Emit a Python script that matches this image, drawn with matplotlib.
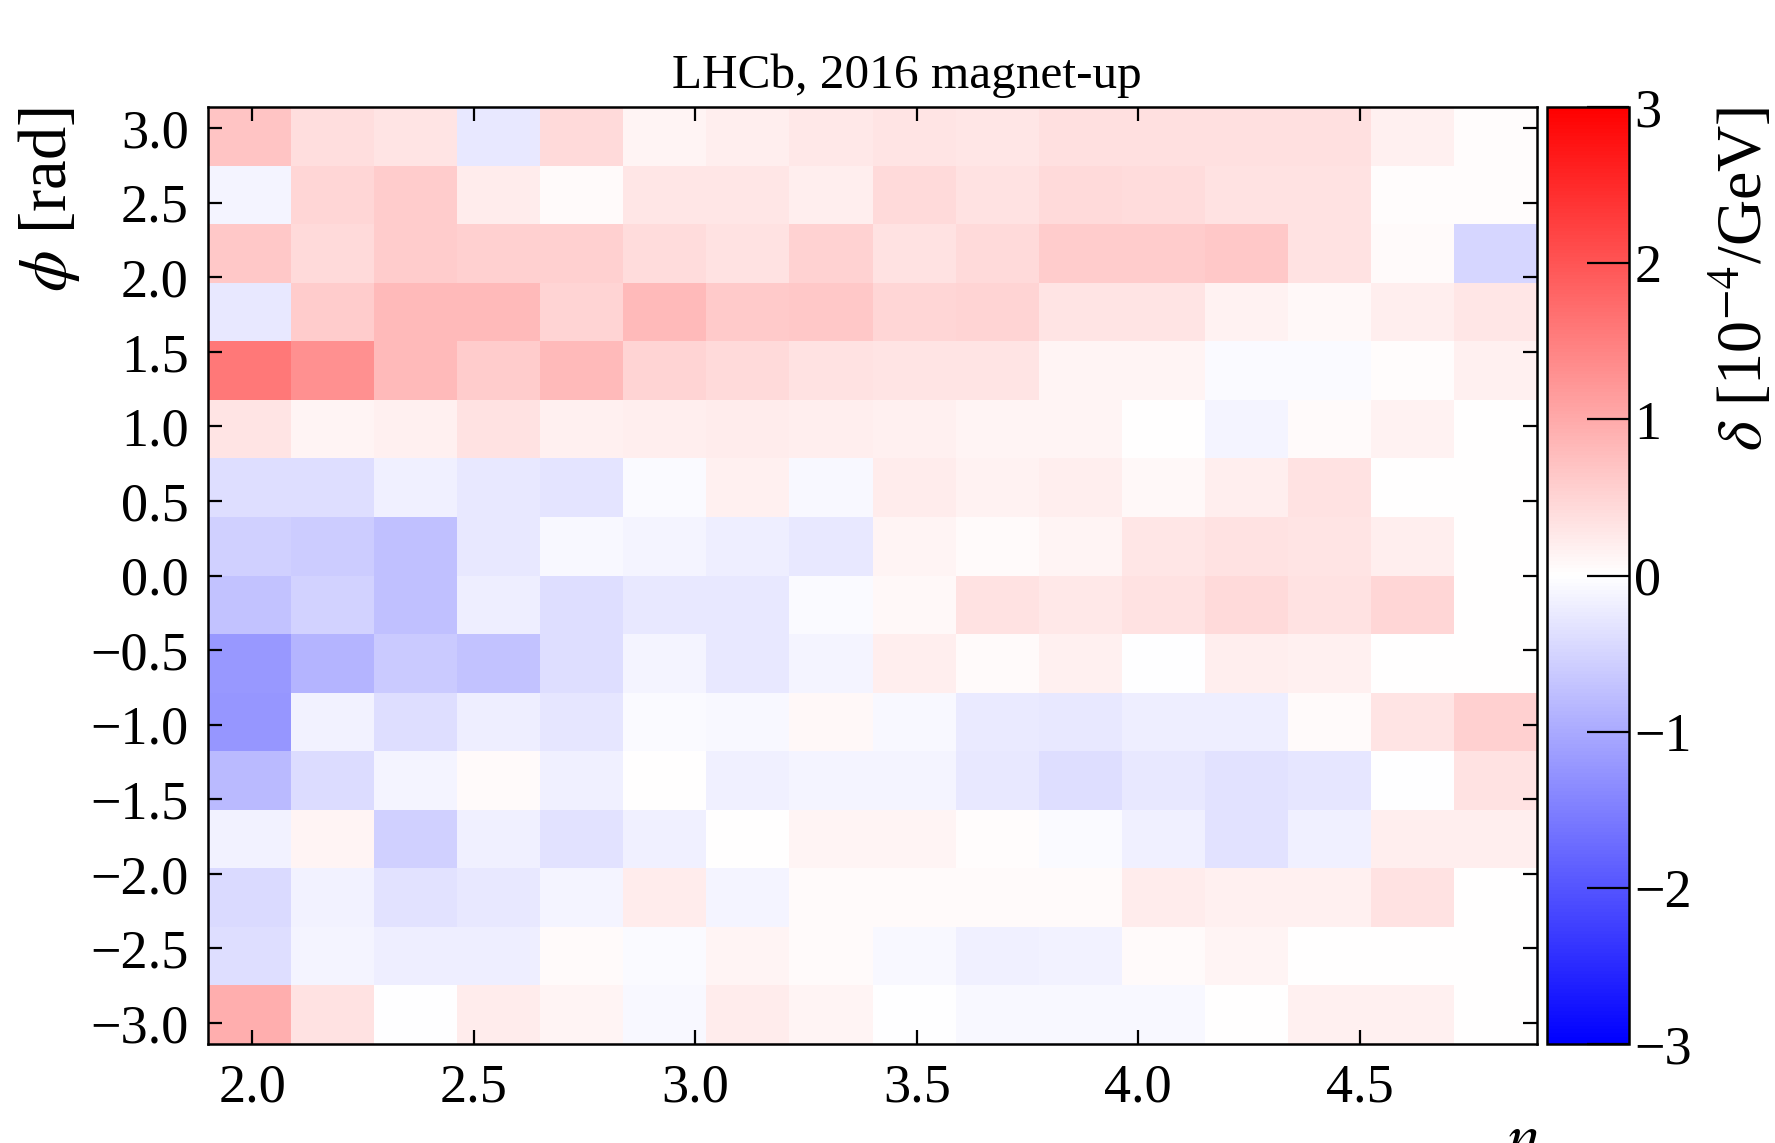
import numpy as np
import matplotlib
matplotlib.use('Agg')
import matplotlib.pyplot as plt

plt.rcParams['font.family'] = ['Liberation Serif', 'DejaVu Serif']
plt.rcParams['mathtext.fontset'] = 'stix'

# binning
eta_low, eta_high, n_eta = 1.9, 4.9, 16
phi_low, phi_high, n_phi = -np.pi, np.pi, 16

# delta values [1e-4/GeV]; rows from top (phi ~ +3) to bottom (phi ~ -3),
# columns from eta = 1.9 to eta = 4.9
delta = [
    [0.70, 0.39, 0.32, -0.27, 0.44, 0.12, 0.21, 0.27, 0.32, 0.29, 0.36, 0.36, 0.36, 0.36, 0.18, 0.03],
    [-0.12, 0.47, 0.59, 0.22, 0.06, 0.29, 0.30, 0.20, 0.44, 0.35, 0.44, 0.42, 0.34, 0.34, 0.03, 0.03],
    [0.65, 0.44, 0.59, 0.55, 0.55, 0.41, 0.35, 0.53, 0.35, 0.44, 0.59, 0.59, 0.65, 0.35, 0.07, -0.47],
    [-0.27, 0.59, 0.82, 0.82, 0.51, 0.82, 0.62, 0.65, 0.47, 0.50, 0.32, 0.32, 0.15, 0.09, 0.20, 0.29],
    [1.59, 1.29, 0.82, 0.59, 0.82, 0.50, 0.44, 0.35, 0.32, 0.32, 0.12, 0.12, -0.06, -0.06, 0.03, 0.18],
    [0.32, 0.14, 0.18, 0.35, 0.18, 0.20, 0.23, 0.20, 0.18, 0.12, 0.14, 0.02, -0.14, 0.06, 0.15, 0.02],
    [-0.39, -0.39, -0.18, -0.27, -0.32, -0.06, 0.18, -0.08, 0.23, 0.15, 0.20, 0.09, 0.20, 0.35, 0.02, 0.02],
    [-0.55, -0.59, -0.74, -0.27, -0.08, -0.12, -0.20, -0.27, 0.12, 0.06, 0.12, 0.29, 0.35, 0.32, 0.20, 0.02],
    [-0.71, -0.53, -0.73, -0.20, -0.38, -0.27, -0.27, -0.06, 0.09, 0.35, 0.26, 0.35, 0.44, 0.35, 0.47, 0.02],
    [-1.21, -0.88, -0.62, -0.71, -0.38, -0.12, -0.27, -0.12, 0.20, 0.06, 0.18, -0.02, 0.20, 0.18, 0.02, 0.02],
    [-1.24, -0.15, -0.39, -0.21, -0.29, -0.06, -0.08, 0.08, -0.08, -0.24, -0.27, -0.20, -0.20, 0.06, 0.32, 0.55],
    [-0.82, -0.41, -0.12, 0.06, -0.18, 0.00, -0.18, -0.12, -0.12, -0.27, -0.39, -0.27, -0.35, -0.29, -0.02, 0.35],
    [-0.15, 0.12, -0.55, -0.18, -0.35, -0.18, 0.00, 0.12, 0.12, 0.04, -0.06, -0.18, -0.34, -0.18, 0.20, 0.20],
    [-0.44, -0.15, -0.35, -0.27, -0.14, 0.22, -0.12, 0.06, 0.06, 0.06, 0.06, 0.23, 0.18, 0.18, 0.35, 0.02],
    [-0.39, -0.12, -0.21, -0.21, 0.06, -0.06, 0.14, 0.06, -0.08, -0.18, -0.15, 0.05, 0.14, 0.02, 0.02, 0.02],
    [0.96, 0.35, -0.02, 0.23, 0.14, -0.08, 0.22, 0.14, -0.02, -0.09, -0.09, -0.09, 0.02, 0.18, 0.18, 0.02],
]

x_ticks = [2.0, 2.5, 3.0, 3.5, 4.0, 4.5]
y_ticks = [-3.0, -2.5, -2.0, -1.5, -1.0, -0.5, 0.0, 0.5, 1.0, 1.5, 2.0, 2.5, 3.0]
cbar_ticks = [-3, -2, -1, 0, 1, 2, 3]
z_min, z_max = -3, 3

title = 'LHCb, 2016 magnet-up'
x_label = r'$\eta$'
y_label = r'$\phi$ [rad]'
z_label = r'$\delta$ [10$^{-4}$/GeV]'

eta_edges = np.linspace(eta_low, eta_high, n_eta + 1)
phi_edges = np.linspace(phi_low, phi_high, n_phi + 1)
Z = np.array(delta)[::-1]

fig = plt.figure(figsize=(17.75, 11.43), dpi=100)
ax = fig.add_axes([0.1172, 0.0866, 0.7487, 0.8198])
cax = fig.add_axes([0.8715, 0.0866, 0.0462, 0.8198])

mesh = ax.pcolormesh(eta_edges, phi_edges, Z, cmap='bwr', vmin=z_min, vmax=z_max)
ax.set_xlim(eta_low, eta_high)
ax.set_ylim(phi_low, phi_high)

ax.set_xticks(x_ticks)
ax.set_xticklabels([f'{v:.1f}' for v in x_ticks])
ax.set_yticks(y_ticks)
ax.set_yticklabels([f'{v:.1f}'.replace('-', '\u2212') for v in y_ticks])
ax.tick_params(direction='in', top=True, right=True, length=10, width=1.6,
               labelsize=39, pad=14)
for s in ax.spines.values():
    s.set_linewidth(1.8)

ax.set_title(title, fontsize=35.5, pad=14, x=0.526)
ax.set_xlabel(x_label, loc='right', fontsize=46, labelpad=0)
ax.set_ylabel(y_label, loc='top', fontsize=48, labelpad=6)

cb = fig.colorbar(mesh, cax=cax, ticks=cbar_ticks)
cb.ax.set_yticklabels([str(t).replace('-', '\u2212') for t in cbar_ticks])
cb.ax.tick_params(direction='in', length=30, width=1.6, labelsize=39, pad=4)
cb.outline.set_linewidth(1.8)
cb.set_label(z_label, loc='top', fontsize=46, labelpad=12)

fig.savefig('out.png', dpi=100)
